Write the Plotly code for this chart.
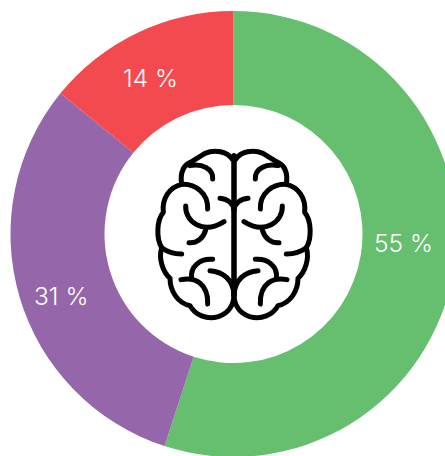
import base64
import plotly.graph_objects as go

categories = ["Green", "Purple", "Red"]
values = [55, 30.86, 14.14]
colors = ["#66BF6F", "#9566A9", "#F24A4E"]
label_px = [(403.5, 243), (60.5, 296), (150, 78)]

W, H = 468, 468
CX, CY, R = 233.5, 234, 223
HOLE = 129 / 223

brain_left = """
<path d="M282,62 V480"/>
<path d="M276,72 C262,50 225,42 195,55 L155,80 C130,90 120,115 125,148 C90,155 65,190 70,232 C50,255 48,310 65,338 C55,370 68,410 90,430 C90,470 115,505 150,512 C165,540 200,555 235,545 C265,535 282,510 282,480"/>
<path d="M150,92 C185,85 220,100 218,132"/>
<path d="M125,148 C165,145 205,175 203,222"/>
<path d="M137,213 C135,260 190,300 252,260"/>
<path d="M197,285 C190,310 170,325 147,323"/>
<path d="M65,338 C80,350 100,357 125,357"/>
<path d="M240,190 C262,192 280,205 282,225"/>
<path d="M218,373 C180,370 150,395 155,430"/>
<path d="M123,434 C165,425 205,445 203,507"/>
<path d="M210,407 C250,410 280,435 282,480"/>
"""
svg = (
    '<svg xmlns="http://www.w3.org/2000/svg" width="555" height="585" viewBox="0 0 555 585">'
    '<g fill="none" stroke="#000" stroke-width="15" stroke-linecap="round" stroke-linejoin="round">'
    + brain_left
    + '<g transform="translate(564,0) scale(-1,1)">' + brain_left + "</g></g></svg>"
)
uri = "data:image/svg+xml;base64," + base64.b64encode(svg.encode()).decode()

fig = go.Figure(
    go.Pie(
        labels=categories,
        values=values,
        hole=HOLE,
        sort=False,
        direction="clockwise",
        rotation=0,
        marker=dict(colors=colors, line=dict(width=0)),
        textinfo="none",
        hoverinfo="label+percent",
        domain=dict(
            x=[(CX - R) / W, (CX + R) / W],
            y=[1 - (CY + R) / H, 1 - (CY - R) / H],
        ),
    )
)
for v, (px, py) in zip(values, label_px):
    fig.add_annotation(
        x=px / W, y=1 - py / H, xref="paper", yref="paper",
        xanchor="center", yanchor="middle",
        text=f"{v:.0f} %", showarrow=False,
        font=dict(family="Inter, Roboto, sans-serif", size=24.5, color="white", weight=300),
    )
fig.add_layout_image(
    source=uri, xref="paper", yref="paper", x=140 / W, y=1 - 135 / H,
    sizex=185 / W, sizey=195 / H, xanchor="left", yanchor="top",
    sizing="stretch", layer="above",
)
fig.update_layout(
    width=W, height=H, margin=dict(l=0, r=0, t=0, b=0),
    showlegend=False, paper_bgcolor="white", plot_bgcolor="white",
)
fig.write_html(
    "out.html",
    config={"displayModeBar": False},
    post_script="document.documentElement.style.overflow='hidden';document.body.style.overflow='hidden';document.body.style.margin='0';window.scrollTo(0,0);",
)
